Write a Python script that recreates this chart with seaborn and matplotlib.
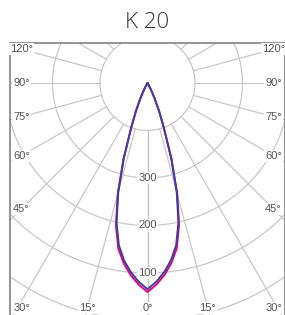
import numpy as np
import pandas as pd
import matplotlib
matplotlib.use("Agg")
import matplotlib.pyplot as plt
import seaborn as sns

# light distribution (cd), half-curve, symmetric about 0 deg
angles = [0, 2.5, 5, 7.5, 10, 12.5, 15, 17.5, 20, 22.5, 25, 27.5, 30, 35]
c0_cd = [440, 425, 406, 383, 354, 307, 242, 168, 101, 63, 34, 15, 4, 0]
c90_cd = [434, 419, 400, 377, 347, 301, 238, 166, 101, 63, 34, 15, 4, 0]
series_names = ["C0-C180", "C90-C270"]

ring_values = [100, 200, 300, 400, 500]
ring_labels = ["", "300", "200", "100", ""]
ray_angles = list(range(0, 181, 15))
label_angles = [0, 15, 30, 45, 60, 75, 90, 105]
label_texts = ["0°", "15°", "30°", "45°", "60°", "75°", "90°", "120°"]

title = "K 20"

PX = 0.475  # pixels per cd
GRID = "#c8c8c8"
TXT = "#555555"

sns.set_theme(style="white")
plt.rcParams["font.family"] = ["Liberation Sans", "DejaVu Sans"]


def to_xy(theta_deg, r):
    t = np.radians(theta_deg)
    return r * np.sin(t), -r * np.cos(t)


# build the closed curves
rows = []
for name, vals in zip(series_names, [c0_cd, c90_cd]):
    th = [-a for a in reversed(angles)] + angles[1:]
    rr = list(reversed(vals)) + vals[1:]
    x, y = to_xy(np.array(th), np.array(rr, dtype=float))
    for i in range(len(th)):
        rows.append({"series": name, "order": i, "x": x[i], "y": y[i]})
df = pd.DataFrame(rows)

fig = plt.figure(figsize=(2.85, 3.15), dpi=100)
ax = fig.add_axes([10 / 285, 0, 275 / 285, 272 / 315])
ax.set_xlim(-137.5 / PX, 137.5 / PX)
ax.set_ylim(-232 / PX, 40 / PX)

# grid circles
tt = np.linspace(0, 360, 721)
for r in ring_values:
    gx, gy = to_xy(tt, r)
    ax.plot(gx, gy, color=GRID, lw=0.9, zorder=1)

# grid rays, starting at the first ring
rr = np.array([ring_values[0], 800])
for a in ray_angles:
    for s in (-1, 1):
        gx, gy = to_xy(s * a, rr)
        ax.plot(gx, gy, color=GRID, lw=0.9, zorder=1)

sns.lineplot(data=df, x="x", y="y", hue="series", hue_order=series_names,
             palette={"C0-C180": "#e6007e", "C90-C270": "#3a3fa3"},
             units="series", estimator=None, sort=False, lw=1.4,
             legend=False, ax=ax, zorder=4)

box = dict(boxstyle="square,pad=0.1", fc="white", ec="none")

# radial labels on the 0 deg ray
for r, t in zip(ring_values, ring_labels):
    if t:
        ax.text(0, -r, t, ha="center", va="center", fontsize=8, color=TXT,
                bbox=box, zorder=5)

# angle labels around the frame
side = 126 / PX
bottom = 225 / PX
for a, t in zip(label_angles, label_texts):
    for s in ((1,) if a == 0 else (-1, 1)):
        if a <= 30:
            lx = min(bottom * np.tan(np.radians(a)), side)
            ly = -bottom
        else:
            lx = side
            ly = -side * np.cos(np.radians(a)) / np.sin(np.radians(a))
        ax.text(s * lx, ly, t, ha="center", va="center", fontsize=8,
                color=TXT, bbox=box, zorder=5)

ax.set_xticks([])
ax.set_yticks([])
ax.set_xlabel("")
ax.set_ylabel("")
for side_name in ["left", "top", "right"]:
    ax.spines[side_name].set_color("#8c8c8c")
    ax.spines[side_name].set_linewidth(1.3)
ax.spines["bottom"].set_visible(False)

fig.text(147.5 / 285, 1 - 22 / 315, title, ha="center", va="center",
         fontsize=16, color="#333333", family=["Open Sans", "DejaVu Sans"],
         weight="light")

fig.savefig("out.png", dpi=100)
